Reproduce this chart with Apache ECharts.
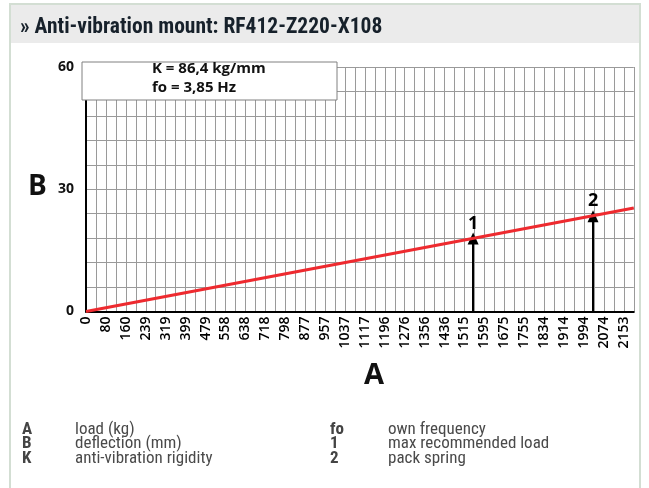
<!DOCTYPE html>
<html>
<head>
<meta charset="utf-8">
<script src="https://cdn.jsdelivr.net/npm/echarts@6/dist/echarts.min.js"></script>
<style>
  html, body { margin: 0; padding: 0; background: #fff; }
  #chart { width: 649px; height: 488px; }
</style>
</head>
<body>
<div id="chart"></div>
<script>
// tick labels of the load axis (kg)
var xTickLabels = ['0', '80', '160', '239', '319', '399', '479', '558', '638', '718', '798', '877', '957',
  '1037', '1117', '1196', '1276', '1356', '1436', '1515', '1595', '1675', '1755', '1834', '1914', '1994', '2074', '2153'];
var xLabelStep = 79.755;
var yMax = 60;

// curve: load (kg) vs deflection (mm)
var lineLoad = [0, 2193.26];
var lineDeflection = [0, 25.38];

// arrows: 1 = max recommended load, 2 = pack spring
var arrowNames = ['1', '2'];
var arrowLoad = [1550, 2030];
var arrowTop = [17.9, 23.4];

var legendLeft = [['A', 'load (kg)'], ['B', 'deflection (mm)'], ['K', 'anti-vibration rigidity']];
var legendRight = [['fo', 'own frequency'], ['1', 'max recommended load'], ['2', 'pack spring']];

var condensed = '"Roboto Condensed", "Liberation Sans Narrow", "Arial Narrow", Roboto, sans-serif';
var gridStep = xLabelStep / 2;
var xMax = gridStep * 55;

var chart = echarts.init(document.getElementById('chart'));

var graphics = [
  { type: 'rect', shape: { x: 10, y: 4, width: 630, height: 500 },
    style: { fill: '#fff', stroke: '#d3ded3', lineWidth: 2 }, z: -10 },
  { type: 'rect', shape: { x: 11, y: 5, width: 628, height: 38 },
    style: { fill: '#ebebeb' }, z: -9 },
  { type: 'text', left: 20, top: 17,
    style: { text: '» Anti-vibration mount: RF412-Z220-X108', font: 'bold 21.5px ' + condensed, fill: '#17212b' } },
  { type: 'rect', shape: { x: 82, y: 62, width: 255, height: 38 },
    style: { fill: '#fff', stroke: '#808080', lineWidth: 1 }, z: 100 },
  { type: 'text', left: 152, top: 61, z: 101,
    style: { text: 'K = 86,4 kg/mm', font: 'bold 15px "Open Sans", sans-serif', fill: '#111' } },
  { type: 'text', left: 152, top: 80, z: 101,
    style: { text: 'fo = 3,85 Hz', font: 'bold 15px "Open Sans", sans-serif', fill: '#111' } },
  { type: 'text', left: 28, top: 173,
    style: { text: 'B', font: 'bold 28px "Open Sans", sans-serif', fill: '#111' } },
  { type: 'text', left: 364, top: 361,
    style: { text: 'A', font: 'bold 29px "Open Sans", sans-serif', fill: '#111' } }
];

legendLeft.forEach(function (row, i) {
  graphics.push({ type: 'text', left: 22, top: 421 + i * 14.5,
    style: { text: row[0], font: 'bold 17px ' + condensed, fill: '#444' } });
  graphics.push({ type: 'text', left: 75, top: 421 + i * 14.5,
    style: { text: row[1], font: '17px ' + condensed, fill: '#4a4a4a' } });
});
legendRight.forEach(function (row, i) {
  graphics.push({ type: 'text', left: 330, top: 421 + i * 14.5,
    style: { text: row[0], font: 'bold 17px ' + condensed, fill: '#444' } });
  graphics.push({ type: 'text', left: 388, top: 421 + i * 14.5,
    style: { text: row[1], font: '17px ' + condensed, fill: '#4a4a4a' } });
});

var arrowLines = arrowLoad.map(function (x, i) {
  return [
    { coord: [x, 0] },
    { coord: [x, arrowTop[i]], name: arrowNames[i] }
  ];
});

var option = {
  animation: false,
  graphic: graphics,
  grid: { left: 86, top: 67, right: 15.2, bottom: 176.5, containLabel: false },
  xAxis: {
    type: 'value',
    min: 0,
    max: xMax,
    interval: gridStep,
    axisLine: { show: true, onZero: false, lineStyle: { color: '#000', width: 2 } },
    axisTick: { show: false },
    splitLine: { show: true, lineStyle: { color: '#9a9a9a', width: 1 } },
    axisLabel: {
      rotate: 90,
      margin: 5,
      color: '#000',
      fontSize: 14,
      fontWeight: 600,
      fontFamily: '"Open Sans", sans-serif',
      showMaxLabel: true,
      formatter: function (v, idx) {
        return idx % 2 === 0 ? (xTickLabels[idx / 2] || '') : '';
      }
    }
  },
  yAxis: {
    type: 'value',
    min: 0,
    max: yMax,
    interval: 6,
    axisLine: { show: true, lineStyle: { color: '#000', width: 2 } },
    axisTick: { show: false },
    splitLine: { show: true, lineStyle: { color: '#9a9a9a', width: 1 } },
    axisLabel: {
      margin: 12,
      color: '#111',
      fontSize: 14,
      fontWeight: 'bold',
      fontFamily: '"Open Sans", sans-serif',
      formatter: function (v) { return v % 30 === 0 ? String(v) : ''; }
    }
  },
  series: [{
    type: 'line',
    data: lineLoad.map(function (x, i) { return [x, lineDeflection[i]]; }),
    symbol: 'none',
    lineStyle: { color: '#ee2a2f', width: 3 },
    z: 5,
    markLine: {
      silent: true,
      symbol: ['none', 'triangle'],
      symbolSize: [11, 12],
      lineStyle: { color: '#000', width: 2, type: 'solid' },
      label: {
        show: true,
        position: 'end',
        formatter: '{b}',
        color: '#000',
        fontSize: 18,
        fontWeight: 'bold',
        fontFamily: '"Open Sans", sans-serif',
        distance: 6
      },
      data: arrowLines
    }
  }]
};

chart.setOption(option);
</script>
</body>
</html>
